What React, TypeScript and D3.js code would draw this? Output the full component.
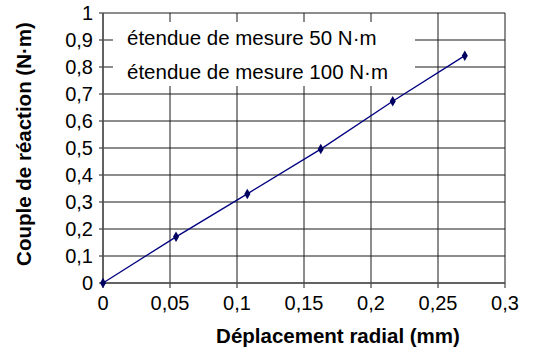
import React from 'react';
import * as d3 from 'd3';

const displacement = [0, 0.0545, 0.1077, 0.1625, 0.2162, 0.27];
const torque = [0, 0.171, 0.33, 0.496, 0.673, 0.842];
const xTicks = [0, 0.05, 0.1, 0.15, 0.2, 0.25, 0.3];
const yTicks = [0, 0.1, 0.2, 0.3, 0.4, 0.5, 0.6, 0.7, 0.8, 0.9, 1];
const legendLabels = ['étendue de mesure 50 N·m', 'étendue de mesure 100 N·m'];

const W = 535;
const H = 352;
const margin = { top: 13, right: 30, bottom: 69, left: 103 };
const font = '"Liberation Sans", Arial, sans-serif';

const fmt = (v: number) => String(v).replace('.', ',');

const App = () => {
  const x = d3.scaleLinear().domain([0, 0.3]).range([margin.left, W - margin.right]);
  const y = d3.scaleLinear().domain([0, 1]).range([H - margin.bottom, margin.top]);
  const pts = displacement.map((d, i) => [d, torque[i]] as [number, number]);
  const line = d3.line<[number, number]>().x((d) => x(d[0])).y((d) => y(d[1]));
  const diamond = d3.symbol().type(d3.symbolDiamond).size(32)();

  return (
    <svg width={W} height={H} style={{ position: 'absolute', left: 0, top: 0, background: '#fff' }}>
      {/* grid */}
      {yTicks.map((t) => (
        <line key={'gy' + t} x1={x(0) - 4} x2={x(0.3)} y1={y(t)} y2={y(t)} stroke="#1a1a1a" strokeWidth={1} />
      ))}
      {xTicks.map((t) => (
        <line key={'gx' + t} x1={x(t)} x2={x(t)} y1={y(1)} y2={y(0) + 5} stroke="#1a1a1a" strokeWidth={1} />
      ))}
      <line x1={x(0)} x2={x(0)} y1={y(1)} y2={y(0)} stroke="#555" strokeWidth={1.5} />
      <line x1={x(0)} x2={x(0.3)} y1={y(0)} y2={y(0)} stroke="#555" strokeWidth={1.5} />

      {/* legend */}
      <rect x={113} y={22} width={302} height={64} fill="#fff" />
      {legendLabels.map((l, i) => (
        <text key={l} x={127} y={45 + i * 34} fontFamily={font} fontSize={20.5} fill="#000">{l}</text>
      ))}

      {/* series */}
      <path d={line(pts) ?? ''} fill="none" stroke="#000080" strokeWidth={1.3} />
      {pts.map((p, i) => (
        <path key={i} d={diamond ?? ''} transform={`translate(${x(p[0])},${y(p[1])})`} fill="#000060" />
      ))}

      {/* tick labels */}
      {yTicks.map((t) => (
        <text key={'ly' + t} x={93} y={y(t)} dy="0.36em" textAnchor="end" fontFamily={font} fontSize={20}>{fmt(t)}</text>
      ))}
      {xTicks.map((t) => (
        <text key={'lx' + t} x={x(t)} y={y(0) + 27} textAnchor="middle" fontFamily={font} fontSize={20}>{fmt(t)}</text>
      ))}

      {/* titles */}
      <text x={338} y={343} textAnchor="middle" fontFamily={font} fontSize={20.5} fontWeight="bold">Déplacement radial (mm)</text>
      <text transform={`translate(31,144) rotate(-90)`} textAnchor="middle" fontFamily={font} fontSize={20.5} fontWeight="bold">Couple de réaction (N·m)</text>
    </svg>
  );
};

export default App;
